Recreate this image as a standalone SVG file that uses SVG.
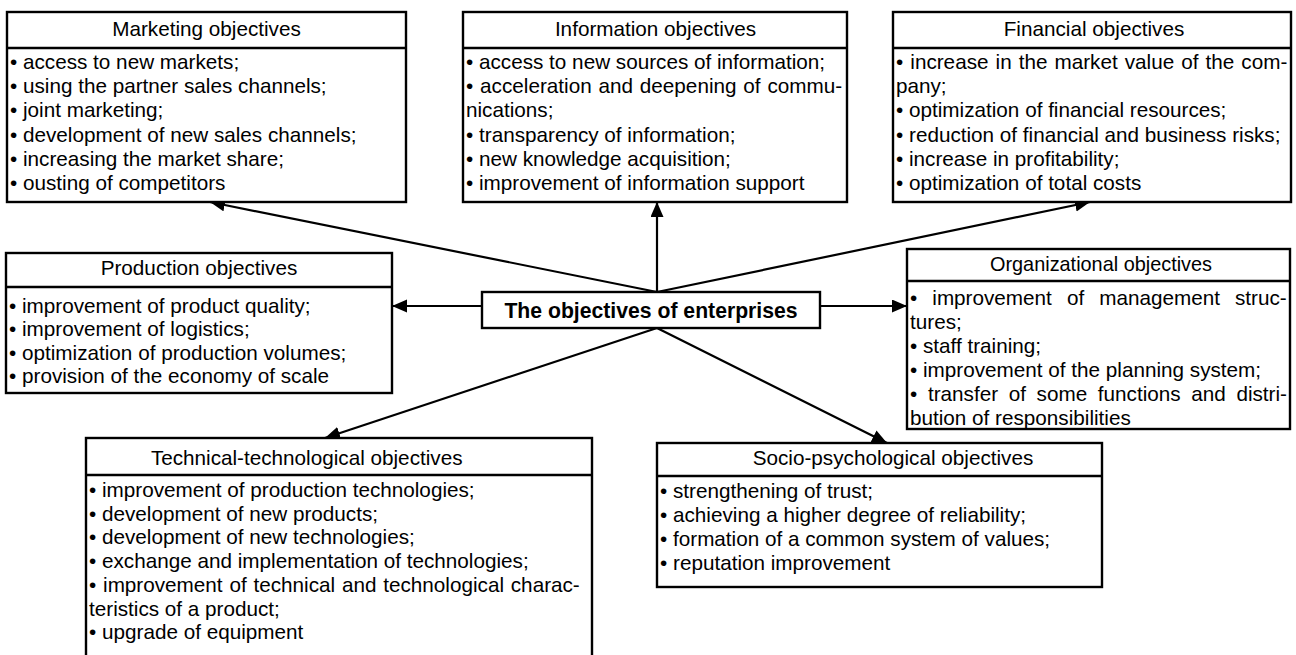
<svg xmlns="http://www.w3.org/2000/svg" width="1296" height="655" viewBox="0 0 1296 655">
<style>
.box{fill:#fff;stroke:#000;stroke-width:2.4}
.div{stroke:#000;stroke-width:2.4}
.hd{font-family:"Liberation Sans",Arial,sans-serif;font-size:20.7px;fill:#000;text-anchor:middle}
.bd{font-family:"Liberation Sans",Arial,sans-serif;font-size:20.7px;fill:#000}
.ct{font-family:"Liberation Sans",Arial,sans-serif;font-size:21.2px;font-weight:bold;fill:#000;text-anchor:middle}
.ln{stroke:#000;stroke-width:2.2;fill:none;marker-end:url(#ah)}
</style>
<defs>
<marker id="ah" markerUnits="userSpaceOnUse" markerWidth="16" markerHeight="14" refX="15" refY="6.5" orient="auto">
<path d="M0,0 L15,6.5 L0,13 z" fill="#000"/>
</marker>
</defs>
<rect width="1296" height="655" fill="#fff"/>
<g id="connectors">
<line class="ln" x1="657" y1="292" x2="210" y2="202"/>
<line class="ln" x1="657" y1="292" x2="657" y2="202"/>
<line class="ln" x1="657" y1="292" x2="1090" y2="202"/>
<line class="ln" x1="482" y1="306" x2="392" y2="306"/>
<line class="ln" x1="820" y1="306" x2="907" y2="306"/>
<line class="ln" x1="657" y1="328" x2="325" y2="438"/>
<line class="ln" x1="657" y1="328" x2="887" y2="443"/>
</g>
<g id="marketing">
<rect class="box" x="7" y="12" width="399" height="190"/>
<line class="div" x1="7" y1="48" x2="406" y2="48"/>
<text class="hd" x="206.5" y="36">Marketing objectives</text>
<text class="bd" x="10" y="69">• access to new markets;</text>
<text class="bd" x="10" y="93.2">• using the partner sales channels;</text>
<text class="bd" x="10" y="117.4">• joint marketing;</text>
<text class="bd" x="10" y="141.6">• development of new sales channels;</text>
<text class="bd" x="10" y="165.8">• increasing the market share;</text>
<text class="bd" x="10" y="190">• ousting of competitors</text>
</g>
<g id="information">
<rect class="box" x="463" y="12" width="384" height="190"/>
<line class="div" x1="463" y1="48" x2="847" y2="48"/>
<text class="hd" x="655.5" y="36">Information objectives</text>
<text class="bd" x="466" y="69">• access to new sources of information;</text>
<text class="bd" x="466" y="93.2" word-spacing="1.1">• acceleration and deepening of commu-</text>
<text class="bd" x="466" y="117.4">nications;</text>
<text class="bd" x="466" y="141.6">• transparency of information;</text>
<text class="bd" x="466" y="165.8">• new knowledge acquisition;</text>
<text class="bd" x="466" y="190">• improvement of information support</text>
</g>
<g id="financial">
<rect class="box" x="893" y="12" width="398" height="190"/>
<line class="div" x1="893" y1="48" x2="1291" y2="48"/>
<text class="hd" x="1094" y="36">Financial objectives</text>
<text class="bd" x="896" y="69" word-spacing="1.3">• increase in the market value of the com-</text>
<text class="bd" x="896" y="93.2">pany;</text>
<text class="bd" x="896" y="117.4">• optimization of financial resources;</text>
<text class="bd" x="896" y="141.6">• reduction of financial and business risks;</text>
<text class="bd" x="896" y="165.8">• increase in profitability;</text>
<text class="bd" x="896" y="190">• optimization of total costs</text>
</g>
<g id="production">
<rect class="box" x="6" y="253" width="386" height="140"/>
<line class="div" x1="6" y1="287" x2="392" y2="287"/>
<text class="hd" x="199" y="275">Production objectives</text>
<text class="bd" x="9" y="312.5">• improvement of product quality;</text>
<text class="bd" x="9" y="336">• improvement of logistics;</text>
<text class="bd" x="9" y="359.5">• optimization of production volumes;</text>
<text class="bd" x="9" y="383">• provision of the economy of scale</text>
</g>
<g id="center">
<rect class="box" x="482" y="292" width="338" height="36"/>
<text class="ct" x="651" y="318">The objectives of enterprises</text>
</g>
<g id="organizational">
<rect class="box" x="907" y="249" width="383" height="180"/>
<line class="div" x1="907" y1="281" x2="1290" y2="281"/>
<text class="hd" x="1101" y="271" textLength="222" lengthAdjust="spacingAndGlyphs">Organizational objectives</text>
<text class="bd" x="910" y="305" word-spacing="9.3">• improvement of management struc-</text>
<text class="bd" x="910" y="329">tures;</text>
<text class="bd" x="910" y="353">• staff training;</text>
<text class="bd" x="910" y="377">• improvement of the planning system;</text>
<text class="bd" x="910" y="401" word-spacing="4.9">• transfer of some functions and distri-</text>
<text class="bd" x="910" y="425">bution of responsibilities</text>
</g>
<g id="technical">
<rect class="box" x="86" y="438" width="506" height="240"/>
<line class="div" x1="86" y1="475" x2="592" y2="475"/>
<text class="hd" x="306.7" y="465">Technical-technological objectives</text>
<text class="bd" x="89" y="497">• improvement of production technologies;</text>
<text class="bd" x="89" y="520.7">• development of new products;</text>
<text class="bd" x="89" y="544.4">• development of new technologies;</text>
<text class="bd" x="89" y="568.1">• exchange and implementation of technologies;</text>
<text class="bd" x="89" y="591.8" word-spacing="1.05">• improvement of technical and technological charac-</text>
<text class="bd" x="89" y="615.5">teristics of a product;</text>
<text class="bd" x="89" y="639.2">• upgrade of equipment</text>
</g>
<g id="socio">
<rect class="box" x="657" y="443" width="445" height="144"/>
<line class="div" x1="657" y1="476" x2="1102" y2="476"/>
<text class="hd" x="893" y="465">Socio-psychological objectives</text>
<text class="bd" x="660" y="497.5">• strengthening of trust;</text>
<text class="bd" x="660" y="521.5">• achieving a higher degree of reliability;</text>
<text class="bd" x="660" y="545.5">• formation of a common system of values;</text>
<text class="bd" x="660" y="569.5">• reputation improvement</text>
</g>
</svg>
